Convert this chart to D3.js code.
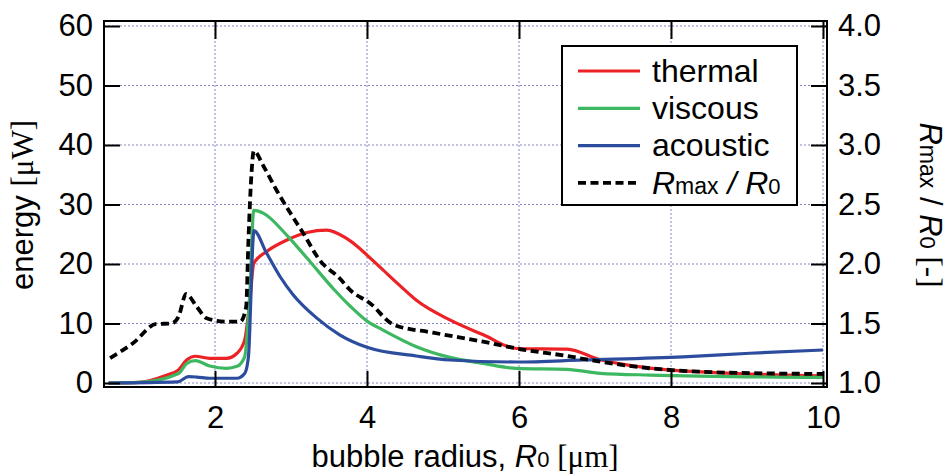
<!DOCTYPE html>
<html>
<head>
<meta charset="utf-8">
<script src="https://cdn.jsdelivr.net/npm/d3@7"></script>
<style>
  body { margin: 0; background: #fff; }
  svg text { font-family: "Liberation Sans", Arial, sans-serif; fill: #000; }
  .serif { font-family: "Liberation Serif", "Times New Roman", serif; }
</style>
</head>
<body>
<svg id="graph" width="948" height="474"></svg>
<script>
// values: [bubble radius um, energy uW]
var thermal = [[0.6,0],[1.0,0.1],[1.36,1.3],[1.52,2.2],[1.63,3.9],[1.74,4.5],[1.93,4.15],[2.15,4.15],[2.29,5.0],[2.39,7.2],[2.46,14],[2.51,20.1],[2.68,22.1],[2.94,24],[3.21,25.3],[3.47,25.7],[3.73,24.3],[3.87,23.0],[4.0,21.5],[4.21,19],[4.43,16.4],[4.65,13.9],[5.09,10.6],[5.53,8.1],[5.97,5.8],[6.63,5.7],[7.07,3.9],[7.72,2.5],[8.6,1.75],[10,1.2]];
var viscous = [[0.6,0],[1.0,0.1],[1.52,1.6],[1.63,3.3],[1.74,3.75],[1.93,2.86],[2.15,2.46],[2.29,2.8],[2.39,4.4],[2.46,15.6],[2.51,29.0],[2.64,28.5],[2.94,24.9],[3.21,21.0],[3.56,15.8],[3.78,12.9],[4.0,10.4],[4.21,8.9],[4.65,6.1],[5.09,4.3],[5.53,3.3],[5.97,2.46],[6.63,2.3],[7.07,1.63],[7.72,1.34],[10,0.95]];
var acoustic = [[0.6,0],[1.51,0.2],[1.65,1.06],[1.76,1.0],[1.93,0.8],[2.29,0.8],[2.39,1.6],[2.44,4.4],[2.5,24],[2.51,25.6],[2.68,21.8],[2.855,17.9],[3.03,14.8],[3.34,10.9],[3.64,8.1],[4.0,6.0],[4.65,4.54],[5.09,3.87],[5.97,3.53],[6.85,3.87],[8.16,4.4],[9.04,5.0],[10,5.55]];
// Rmax / R0 on the right axis
var rmax = [[0.62,1.21],[0.92,1.334],[1.23,1.496],[1.43,1.5],[1.52,1.557],[1.62,1.748],[1.76,1.641],[1.89,1.544],[2.15,1.515],[2.33,1.515],[2.41,1.64],[2.44,2.2],[2.48,2.76],[2.51,2.95],[2.64,2.82],[2.81,2.62],[2.99,2.43],[3.16,2.26],[3.38,2.03],[3.64,1.88],[3.78,1.78],[4.04,1.67],[4.35,1.49],[4.87,1.423],[5.53,1.347],[5.97,1.29],[6.63,1.227],[7.07,1.179],[7.72,1.124],[8.6,1.09],[10,1.076]];

var xTicks = [2, 4, 6, 8, 10];
var leftTicks = [0, 10, 20, 30, 40, 50, 60];
var rightTicks = [1.0, 1.5, 2.0, 2.5, 3.0, 3.5, 4.0];

var legendItems = [
    {name: "thermal", color: "#ec2227", dash: null},
    {name: "viscous", color: "#3db860", dash: null},
    {name: "acoustic", color: "#2c4c9e", dash: null},
    {name: "Rmax", color: "#000", dash: "8,4.5"}
];

drawGraph();

function drawGraph(){
    var svg = d3.select("#graph");
    var frame = {left: 104, right: 827, top: 21, bottom: 387};

    var x = d3.scaleLinear().domain([2, 10]).range([215, 823]);
    var yL = d3.scaleLinear().domain([0, 60]).range([383, 26]);
    var yR = d3.scaleLinear().domain([1, 4]).range([383, 26]);

    // dotted grid
    var grid = svg.append("g")
        .attr("stroke", "#8585c6").attr("stroke-width", 1).attr("stroke-dasharray", "2,2");
    grid.selectAll(".gx").data(xTicks).enter().append("line")
        .attr("x1", d => x(d)).attr("x2", d => x(d))
        .attr("y1", frame.top).attr("y2", frame.bottom);
    grid.selectAll(".gy").data(leftTicks).enter().append("line")
        .attr("x1", frame.left).attr("x2", frame.right)
        .attr("y1", d => yL(d)).attr("y2", d => yL(d));

    // curves
    var lineL = d3.line().x(d => x(d[0])).y(d => yL(d[1])).curve(d3.curveMonotoneX);
    var lineR = d3.line().x(d => x(d[0])).y(d => yR(d[1])).curve(d3.curveMonotoneX);
    [thermal, viscous, acoustic].forEach(function(s, i){
        svg.append("path").datum(s).attr("d", lineL)
            .attr("fill", "none").attr("stroke", legendItems[i].color)
            .attr("stroke-width", 3.2).attr("stroke-linejoin", "round");
    });
    svg.append("path").datum(rmax).attr("d", lineR)
        .attr("fill", "none").attr("stroke", "#000")
        .attr("stroke-width", 3.8).attr("stroke-dasharray", "8,4.5");

    // axes, ticks pointing inward
    var axL = svg.append("g").attr("transform", "translate(" + frame.left + ",0)")
        .call(d3.axisLeft(yL).tickValues(leftTicks).tickSizeInner(-16).tickSizeOuter(0).tickPadding(11));
    var axR = svg.append("g").attr("transform", "translate(" + frame.right + ",0)")
        .call(d3.axisRight(yR).tickValues(rightTicks).tickFormat(d3.format(".1f"))
            .tickSizeInner(-16).tickSizeOuter(0).tickPadding(11));
    var axB = svg.append("g").attr("transform", "translate(0," + frame.bottom + ")")
        .call(d3.axisBottom(x).tickValues(xTicks).tickSizeInner(-16).tickSizeOuter(0).tickPadding(19));
    var axT = svg.append("g").attr("transform", "translate(0," + frame.top + ")")
        .call(d3.axisTop(x).tickValues(xTicks).tickSizeInner(-18).tickSizeOuter(0).tickFormat(""));
    [axL, axR, axB, axT].forEach(function(a){
        a.select(".domain").remove();
        a.selectAll(".tick line").attr("stroke", "#000").attr("stroke-width", 2);
        a.selectAll("text").attr("font-size", "31px")
            .attr("font-family", "Liberation Sans, Arial, sans-serif").attr("fill", "#000");
    });

    svg.append("rect")
        .attr("x", frame.left).attr("y", frame.top)
        .attr("width", frame.right - frame.left).attr("height", frame.bottom - frame.top)
        .attr("fill", "none").attr("stroke", "#000").attr("stroke-width", 2);

    // axis titles
    var tB = svg.append("text").attr("x", 465).attr("y", 467)
        .attr("text-anchor", "middle").attr("font-size", "31px");
    tB.append("tspan").text("bubble radius, ");
    tB.append("tspan").attr("font-style", "italic").text("R");
    tB.append("tspan").attr("font-size", "22px").text("0");
    tB.append("tspan").attr("class", "serif").text(" [\u03bcm]");

    var tL = svg.append("text").attr("transform", "translate(33,205) rotate(-90)")
        .attr("text-anchor", "middle").attr("font-size", "31px");
    tL.append("tspan").text("energy ");
    tL.append("tspan").attr("class", "serif").text("[\u03bcW]");

    var tR = svg.append("text").attr("transform", "translate(920,205) rotate(90)")
        .attr("text-anchor", "middle").attr("font-size", "31px");
    tR.append("tspan").attr("font-style", "italic").text("R");
    tR.append("tspan").attr("font-size", "23px").text("max");
    tR.append("tspan").text(" / ");
    tR.append("tspan").attr("font-style", "italic").text("R");
    tR.append("tspan").attr("font-size", "22px").text("0");
    tR.append("tspan").attr("class", "serif").text("  [-]");

    // legend
    var lg = svg.append("g");
    lg.append("rect").attr("x", 562).attr("y", 46).attr("width", 235).attr("height", 159)
        .attr("fill", "#fff").attr("stroke", "#000").attr("stroke-width", 2);
    var rows = lg.selectAll(".row").data(legendItems).enter().append("g")
        .attr("transform", (d, i) => "translate(0," + (71 + i * 37.3) + ")");
    rows.append("line").attr("x1", 578).attr("x2", 640)
        .attr("stroke", d => d.color).attr("stroke-width", d => d.dash ? 3.8 : 3.2)
        .attr("stroke-dasharray", d => d.dash);
    rows.append("text").attr("x", 652).attr("dy", "0.34em").attr("font-size", "32px")
        .each(function(d){
            var t = d3.select(this);
            if (d.name != "Rmax") { t.text(d.name); return; }
            t.append("tspan").attr("font-style", "italic").text("R");
            t.append("tspan").attr("font-size", "23px").text("max");
            t.append("tspan").attr("font-style", "italic").text(" / R");
            t.append("tspan").attr("font-size", "22px").text("0");
        });
}
</script>
</body>
</html>
